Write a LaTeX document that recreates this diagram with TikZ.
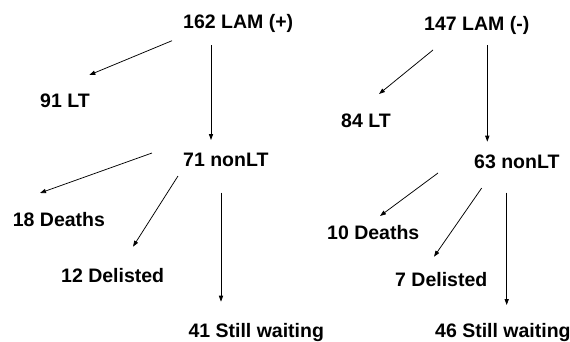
\documentclass[tikz,border=0pt]{standalone}
\usepackage{fontspec}
\setmainfont{Liberation Sans}
\usetikzlibrary{arrows.meta}
\begin{document}
\begin{tikzpicture}[x=1pt,y=-1pt,
  lbl/.style={anchor=base west,inner sep=0pt,font=\fontsize{19.5}{23}\selectfont\bfseries},
  arr/.style={draw=black,line width=0.75pt,-{Triangle[length=6pt,width=4.2pt]}}]
\fill[white] (0,0) rectangle (570,341);
\useasboundingbox (0,0) rectangle (570,341);

% left tree
\node[lbl] (lamp) at (183,28)    {162 LAM (+)};
\node[lbl] (ltp)  at (40,107.3)  {91 LT};
\node[lbl] (nonp) at (183,166.5) {71 nonLT};
\node[lbl] (dp)   at (12.7,226)  {18 Deaths};
\node[lbl] (dlp)  at (61,282.5)  {12 Delisted};
\node[lbl] (swp)  at (188.3,337) {41 Still waiting};

% right tree
\node[lbl] (lamm) at (424,30)    {147 LAM (-)};
\node[lbl] (ltm)  at (341,127)   {84 LT};
\node[lbl] (nonm) at (474,168)   {63 nonLT};
\node[lbl] (dm)   at (327,239.5) {10 Deaths};
\node[lbl] (dlm)  at (395,286)   {7 Delisted};
\node[lbl] (swm)  at (435,337)   {46 Still waiting};

% connectors, left
\draw[arr] ([shift={(-11,12.7)}]lamp.base west) -- ([shift={(49.3,-32.3)}]ltp.base west);
\draw[arr] ([shift={(28,17)}]lamp.base west) -- ([shift={(28,-26.5)}]nonp.base west);
\draw[arr] ([shift={(-31,-13.5)}]nonp.base west) -- ([shift={(27.3,-33)}]dp.base west);
\draw[arr] ([shift={(-5,9.5)}]nonp.base west) -- ([shift={(72,-35.8)}]dlp.base west);
\draw[arr] ([shift={(38,26.2)}]nonp.base west) -- ([shift={(32.7,-35.3)}]swp.base west);

% connectors, right
\draw[arr] ([shift={(9,20)}]lamm.base west) -- ([shift={(38,-33)}]ltm.base west);
\draw[arr] ([shift={(63.3,15)}]lamm.base west) -- ([shift={(13.3,-26.3)}]nonm.base west);
\draw[arr] ([shift={(-36,5)}]nonm.base west) -- ([shift={(53,-23.5)}]dm.base west);
\draw[arr] ([shift={(7.7,20)}]nonm.base west) -- ([shift={(39,-29.3)}]dlm.base west);
\draw[arr] ([shift={(32.7,24.7)}]nonm.base west) -- ([shift={(71.7,-32)}]swm.base west);
\end{tikzpicture}
\end{document}
